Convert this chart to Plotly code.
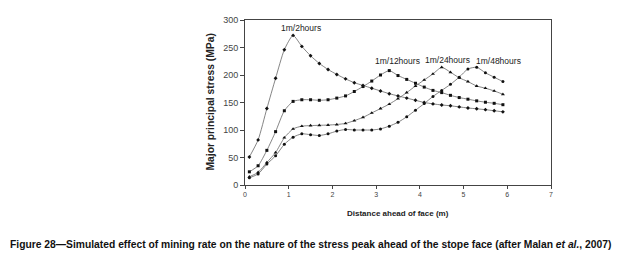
import plotly.graph_objects as go

distance = [0.1, 0.3, 0.5, 0.7, 0.9, 1.1, 1.3, 1.5, 1.7, 1.9, 2.1, 2.3, 2.5, 2.7, 2.9,
            3.1, 3.3, 3.5, 3.7, 3.9, 4.1, 4.3, 4.5, 4.7, 4.9, 5.1, 5.3, 5.5, 5.7, 5.9]

rate_2h = [51, 82, 139, 194, 246, 272, 252, 235, 221, 210, 201, 193, 186, 181, 176,
           171, 166, 162, 158, 154, 150, 147.5, 145.5, 144, 142, 140, 138.5, 137, 135, 133]
rate_12h = [24, 35, 63, 97, 135, 152, 155, 155, 154, 155, 158, 162, 170, 179, 189,
            200, 208, 199, 192, 185, 178, 172, 168, 163, 159, 156, 153, 150.5, 148.5, 146]
rate_24h = [15, 23, 41, 59, 86, 102, 107, 108, 108.5, 109, 110, 112, 117, 123, 131,
            139, 147, 157, 168, 180, 191, 202, 214, 205, 195, 188, 180, 176, 171, 165]
rate_48h = [13, 20, 38, 53, 74, 87, 93, 91.5, 90, 93, 98, 101, 100, 100, 100,
            102, 107, 114, 124, 136, 148, 161, 172, 183, 196, 211, 214, 204, 196, 188]

series_names = ["1m/2hours", "1m/12hours", "1m/24hours", "1m/48hours"]
label_x = [1.28, 3.49, 4.63, 5.79]
label_y = [285, 226, 228, 225]

x_ticks = [0, 1, 2, 3, 4, 5, 6, 7]
y_ticks = [0, 50, 100, 150, 200, 250, 300]

FONT = "Liberation Sans, Arial, sans-serif"
LINE = "#666666"

fig = go.Figure()
specs = [(rate_2h, "diamond", 3), (rate_12h, "square", 3),
         (rate_24h, "triangle-up", 3.5), (rate_48h, "circle", 3)]
for (vals, sym, sz), name in zip(specs, series_names):
    fig.add_trace(go.Scatter(
        x=distance, y=vals, name=name, mode="lines+markers",
        line=dict(color=LINE, width=0.8, shape="spline", smoothing=0.6),
        marker=dict(symbol=sym, size=sz, color="#111111"),
        showlegend=False, cliponaxis=False))

for name, lx, ly in zip(series_names, label_x, label_y):
    fig.add_annotation(x=lx, y=ly, text=name, showarrow=False, xref="x", yref="y",
                       font=dict(family=FONT, size=8.5, color="#222222"))

fig.add_annotation(xref="paper", yref="paper", x=0.5, y=0, yshift=-28,
                   text="<b>Distance ahead of face (m)</b>", showarrow=False,
                   xanchor="center", yanchor="middle",
                   font=dict(family=FONT, size=8, color="#222222"))
fig.add_annotation(xref="paper", yref="paper", x=0, xshift=-35, y=0.5,
                   text="<b>Major principal stress (MPa)</b>", showarrow=False,
                   textangle=-90, xanchor="center", yanchor="middle",
                   font=dict(family=FONT, size=10.3, color="#222222"))
fig.add_annotation(xref="paper", yref="paper", x=-0.7745, xanchor="left", y=0, yshift=-59,
                   yanchor="middle",
                   text="<b>Figure 28—Simulated effect of mining rate on the nature of the stress peak ahead of the stope face (after Malan <i>et al.</i>, 2007)</b>",
                   showarrow=False,
                   font=dict(family="Liberation Sans Narrow, Liberation Sans, Arial", size=10.3, color="#111111"))

fig.update_xaxes(range=[0, 7], tickvals=x_ticks, showline=True, linecolor="#444444",
                 linewidth=1, mirror=True, ticks="outside", ticklen=3, tickcolor="#444444",
                 showgrid=False, zeroline=False,
                 tickfont=dict(family=FONT, size=7, color="#444444"))
fig.update_yaxes(range=[0, 300], tickvals=y_ticks, showline=True, linecolor="#444444",
                 linewidth=1, mirror=True, ticks="outside", ticklen=4, tickcolor="#444444",
                 showgrid=False, zeroline=False,
                 tickfont=dict(family=FONT, size=9, color="#444444"))

fig.update_layout(width=613, height=250, margin=dict(l=237, r=70, t=7, b=73),
                  paper_bgcolor="white", plot_bgcolor="white")

fig.write_html("out.html")
